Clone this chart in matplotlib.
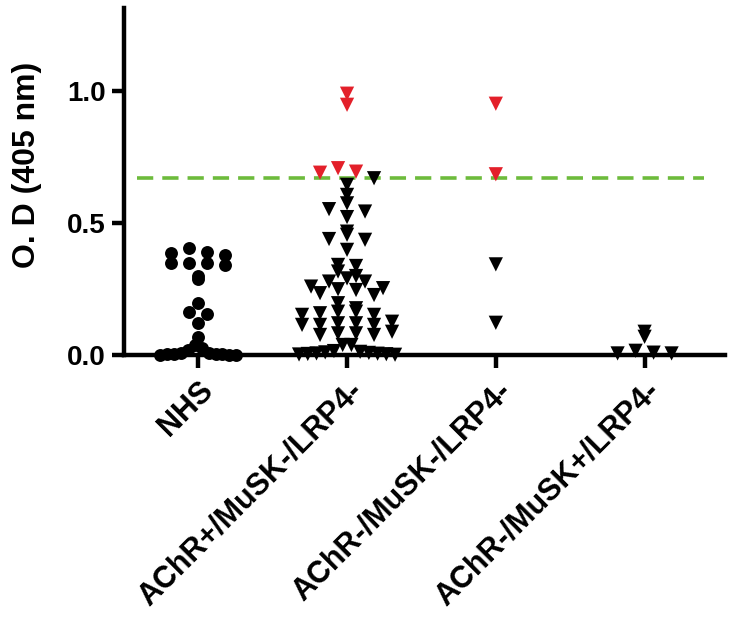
import numpy as np
import matplotlib
matplotlib.use("Agg")
import matplotlib.pyplot as plt

plt.rcParams["font.family"] = ["Liberation Sans", "DejaVu Sans"]
plt.rcParams["font.weight"] = "bold"

GROUPS = ["NHS", "AChR+/MuSK-/LRP4-", "AChR-/MuSK-/LRP4-", "AChR-/MuSK+/LRP4-"]
CUTOFF = 0.67

nhs = [0.404, 0.391, 0.385, 0.379, 0.347, 0.347, 0.347, 0.341, 0.299, 0.287,
       0.198, 0.164, 0.155, 0.122, 0.067, 0.038, 0.025, 0.019,
       0.008, 0.006, 0.004, 0.003, 0.002, 0.002, 0.001, 0.0, 0.0]
achr_pos = [0.989, 0.947, 0.707, 0.694, 0.690,
            0.669, 0.644, 0.606, 0.574, 0.552, 0.543, 0.522, 0.467, 0.455, 0.439,
            0.436, 0.398, 0.341, 0.337, 0.316, 0.299, 0.290, 0.278, 0.278, 0.259,
            0.253, 0.249, 0.246, 0.234, 0.227, 0.196, 0.177, 0.164, 0.164, 0.158,
            0.152, 0.152, 0.126, 0.120, 0.120, 0.114, 0.114, 0.114, 0.088, 0.082,
            0.082, 0.076, 0.076, 0.038, 0.038, 0.015, 0.012, 0.010, 0.008, 0.006,
            0.005, 0.004, 0.003, 0.002, 0.001]
achr_neg = [0.951, 0.684, 0.343, 0.122]
musk_pos = [0.088, 0.069, 0.016, 0.009, 0.006, 0.006]

RED = "#e3202a"
GREEN = "#6dbb3c"


def spread(vals, center, ax, row_px=11, gap_px=18, max_px=96):
    # GraphPad-style scatter: bin into rows, centre each row, squeeze wide rows
    t = ax.transData
    ppx = t.transform((1, 0))[0] - t.transform((0, 0))[0]
    ppy = t.transform((0, 1))[1] - t.transform((0, 0))[1]
    vals = np.asarray(vals)
    rows = np.floor(vals * ppy / row_px).astype(int)
    xs = np.zeros(len(vals))
    for r in np.unique(rows):
        idx = np.where(rows == r)[0]
        idx = idx[np.argsort(-vals[idx], kind="stable")]  # highest goes in the middle
        n = len(idx)
        gap = gap_px if n < 2 else min(gap_px, max_px / (n - 1))
        slots = (np.arange(n) - (n - 1) / 2) * gap
        slots = slots[np.argsort(np.abs(slots) + 1e-6 * slots, kind="stable")]
        xs[idx] = center + slots / ppx
    return xs


fig = plt.figure(figsize=(7.33, 6.2), dpi=100)
ax = fig.add_axes([0.169, 0.4274, 0.82, 0.56])
ax.set_xlim(-0.5, 3.54)
ax.set_ylim(0, 1.314)

data = [nhs, achr_pos, achr_neg, musk_pos]
for g, vals in enumerate(data):
    vals = np.asarray(vals)
    if g == 0:
        xs = spread(vals, g, ax, max_px=76)
        ax.plot(xs, vals, "o", ms=9.3, color="black", mec="none", clip_on=False, zorder=3)
    else:
        xs = spread(vals, g, ax)
        cols = np.where(vals > CUTOFF, RED, "black")
        ax.scatter(xs, vals, marker="v", s=105, c=cols, edgecolors="none",
                   clip_on=False, zorder=3)

ax.hlines(CUTOFF, -0.41, 3.40, colors=GREEN, linestyles=(0, (4.5, 2.5)), lw=2.6, zorder=2)

for s in ["top", "right"]:
    ax.spines[s].set_visible(False)
for s in ["left", "bottom"]:
    ax.spines[s].set_linewidth(3.2)

ax.set_yticks([0.0, 0.5, 1.0])
ax.set_yticklabels(["0.0", "0.5", "1.0"], fontsize=20, fontweight="bold")
ax.set_xticks(range(len(GROUPS)))
ax.set_xticklabels(GROUPS, fontsize=22, fontweight="bold", rotation=45,
                   ha="right", va="top", rotation_mode="anchor")
ax.tick_params(axis="both", direction="out", length=9, width=3.2, pad=4)
ax.tick_params(axis="x", pad=6)
ax.set_ylabel("O. D (405 nm)", fontsize=23, fontweight="bold")
ax.yaxis.set_label_coords(-0.136, 0.548)

fig.savefig("out.png", dpi=100)
